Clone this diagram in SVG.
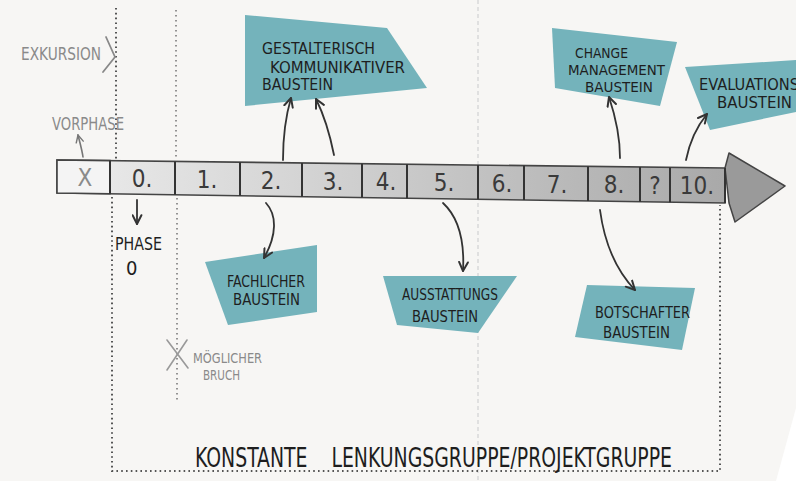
<svg xmlns="http://www.w3.org/2000/svg" width="796" height="481" viewBox="0 0 796 481">
<defs>
<linearGradient id="barg" gradientUnits="userSpaceOnUse" x1="57" y1="0" x2="725" y2="0">
<stop offset="0" stop-color="#efefef"/><stop offset="0.1" stop-color="#e6e6e6"/><stop offset="1" stop-color="#a9a9a9"/>
</linearGradient>
<marker id="ah" viewBox="0 0 10 10" refX="9" refY="5" markerWidth="11" markerHeight="11" markerUnits="userSpaceOnUse" orient="auto">
<path d="M1,1 L9,5 L1,9" fill="none" stroke="#333" stroke-width="1.8" stroke-linecap="round" stroke-linejoin="round"/>
</marker>
<marker id="ahg" viewBox="0 0 10 10" refX="9" refY="5" markerWidth="9" markerHeight="9" markerUnits="userSpaceOnUse" orient="auto">
<path d="M1,1 L9,5 L1,9" fill="none" stroke="#777" stroke-width="1.6" stroke-linecap="round"/>
</marker>
</defs>
<style>
.t{font-family:"Liberation Sans Narrow","DejaVu Sans Condensed","Liberation Sans",sans-serif;fill:#1e1e1e;}
.g{fill:#8a8a8a;}
.num{font-family:"Liberation Sans Narrow","DejaVu Sans Condensed","Liberation Sans",sans-serif;font-size:24px;fill:#3a3a3a;text-anchor:middle;}
.box{fill:#74b3bb;}
.arr{fill:none;stroke:#333;stroke-width:1.8;stroke-linecap:round;marker-end:url(#ah);}
.dot{fill:none;stroke:#555;stroke-width:2;stroke-dasharray:1.6 3.2;}
.dot2{fill:none;stroke:#888;stroke-width:1.8;stroke-dasharray:1.5 3.5;}
.sep{stroke:#333;stroke-width:2;}
</style>
<rect width="796" height="481" fill="#f7f6f4"/>
<polygon points="776,481 796,408 796,481" fill="#ffffff"/>

<g id="guides">
<line x1="478" y1="0" x2="478" y2="481" stroke="#d9d9d9" stroke-width="1.5" stroke-dasharray="4 3"/>
<line class="dot" x1="116" y1="8" x2="116" y2="160"/>
<polyline class="dot" points="112,197 112,471 720,471 720,205"/>
<line class="dot2" x1="176" y1="10" x2="176" y2="160"/>
<line class="dot2" x1="177" y1="198" x2="177" y2="400"/>
</g>

<g id="timeline">
<polygon points="57,160 725,168 725,203 57,193" fill="url(#barg)" stroke="#444" stroke-width="1.6"/>
<polygon points="57,160 110,160.6 110,193.8 57,193" fill="#f4f4f4" stroke="#444" stroke-width="1.6"/>
<polygon points="725,168 729,153 785,186 735,222 729,203" fill="#9a9a9a" stroke="#444" stroke-width="1.5" stroke-linejoin="round"/>
<line class="sep" x1="110" y1="160.6" x2="110" y2="193.8"/>
<line class="sep" x1="175" y1="161.4" x2="175" y2="194.8"/>
<line class="sep" x1="240" y1="162.2" x2="240" y2="195.7"/>
<line class="sep" x1="302" y1="162.9" x2="302" y2="196.7"/>
<line class="sep" x1="362" y1="163.7" x2="362" y2="197.6"/>
<line class="sep" x1="407" y1="164.2" x2="407" y2="198.3"/>
<line class="sep" x1="478" y1="165.1" x2="478" y2="199.3"/>
<line class="sep" x1="524" y1="165.6" x2="524" y2="200"/>
<line class="sep" x1="588" y1="166.4" x2="588" y2="201"/>
<line class="sep" x1="640" y1="167" x2="640" y2="201.7"/>
<line class="sep" x1="670" y1="167.4" x2="670" y2="202.2"/>
<line class="sep" x1="725" y1="168" x2="725" y2="203"/>
<text class="num" x="85" y="186" style="fill:#8a8a8a">X</text>
<text class="num" x="142" y="187">0.</text>
<text class="num" x="207" y="188">1.</text>
<text class="num" x="271" y="189">2.</text>
<text class="num" x="333" y="190">3.</text>
<text class="num" x="386" y="190">4.</text>
<text class="num" x="444" y="191">5.</text>
<text class="num" x="502" y="192">6.</text>
<text class="num" x="557" y="193">7.</text>
<text class="num" x="614" y="193">8.</text>
<text class="num" x="655" y="194">?</text>
<text class="num" x="697" y="194">10.</text>
</g>

<g id="exkursion">
<text class="t g" x="21" y="60" font-size="18" textLength="80" lengthAdjust="spacingAndGlyphs">EXKURSION</text>
<path d="M106,37 L115,57 L103,72" fill="none" stroke="#888" stroke-width="1.8" stroke-linecap="round" stroke-linejoin="round"/>
</g>
<g id="vorphase">
<text class="t g" x="52" y="130" font-size="17" textLength="72" lengthAdjust="spacingAndGlyphs">VORPHASE</text>
</g>
<g id="phase0">
<text class="t" x="115" y="250" font-size="17" textLength="47" lengthAdjust="spacingAndGlyphs">PHASE</text>
<text class="t" x="126" y="275" font-size="20">0</text>
</g>
<g id="bruch">
<path d="M167,340 L188,368 M187,340 L167,370" fill="none" stroke="#999" stroke-width="1.6" stroke-linecap="round"/>
<text class="t g" x="193" y="363" font-size="14" textLength="69" lengthAdjust="spacingAndGlyphs">MÖGLICHER</text>
<text class="t g" x="203" y="380" font-size="14" textLength="37" lengthAdjust="spacingAndGlyphs">BRUCH</text>
</g>

<g id="gestalterisch">
<polygon class="box" points="245,15 387,28 427,88 245,106"/>
<text class="t" x="262" y="54" font-size="16" textLength="113" lengthAdjust="spacingAndGlyphs">GESTALTERISCH</text>
<text class="t" x="270" y="73" font-size="16" textLength="135" lengthAdjust="spacingAndGlyphs">KOMMUNIKATIVER</text>
<text class="t" x="262" y="90" font-size="16" textLength="71" lengthAdjust="spacingAndGlyphs">BAUSTEIN</text>
</g>
<g id="change">
<polygon class="box" points="552,28 677,42 660,106 555,88"/>
<text class="t" x="575" y="58" font-size="14" textLength="53" lengthAdjust="spacingAndGlyphs">CHANGE</text>
<text class="t" x="568" y="75" font-size="14" textLength="97" lengthAdjust="spacingAndGlyphs">MANAGEMENT</text>
<text class="t" x="585" y="92" font-size="14" textLength="68" lengthAdjust="spacingAndGlyphs">BAUSTEIN</text>
</g>
<g id="evaluations">
<polygon class="box" points="685,67 796,60 796,112 710,130"/>
<text class="t" x="699" y="90" font-size="16" textLength="100" lengthAdjust="spacingAndGlyphs">EVALUATIONS</text>
<text class="t" x="717" y="108" font-size="16" textLength="75" lengthAdjust="spacingAndGlyphs">BAUSTEIN</text>
</g>
<g id="fachlicher">
<polygon class="box" points="205,262 317,245 317,312 228,325"/>
<text class="t" x="227" y="287" font-size="16" textLength="78" lengthAdjust="spacingAndGlyphs">FACHLICHER</text>
<text class="t" x="233" y="305" font-size="16" textLength="67" lengthAdjust="spacingAndGlyphs">BAUSTEIN</text>
</g>
<g id="ausstattungs">
<polygon class="box" points="383,276 517,276 478,333 397,325"/>
<text class="t" x="402" y="300" font-size="16" textLength="96" lengthAdjust="spacingAndGlyphs">AUSSTATTUNGS</text>
<text class="t" x="412" y="322" font-size="16" textLength="66" lengthAdjust="spacingAndGlyphs">BAUSTEIN</text>
</g>
<g id="botschafter">
<polygon class="box" points="587,285 695,288 682,350 575,337"/>
<text class="t" x="595" y="318" font-size="16" textLength="95" lengthAdjust="spacingAndGlyphs">BOTSCHAFTER</text>
<text class="t" x="603" y="338" font-size="16" textLength="67" lengthAdjust="spacingAndGlyphs">BAUSTEIN</text>
</g>

<g id="lenkungsgruppe">
<text class="t" x="195" y="467" font-size="26" xml:space="preserve" textLength="477" lengthAdjust="spacingAndGlyphs">KONSTANTE    LENKUNGSGRUPPE/PROJEKTGRUPPE</text>
</g>

<g id="connectors">
<path class="arr" d="M283,160 C283,140 286,115 291,98"/>
<path class="arr" d="M334,155 C330,135 324,115 316,99"/>
<path class="arr" d="M620,158 C620,135 615,115 609,97"/>
<path class="arr" d="M686,160 C690,140 698,125 707,114"/>
<path class="arr" d="M266,203 C277,215 277,235 264,258"/>
<path class="arr" d="M443,203 C456,215 465,235 463,271"/>
<path class="arr" d="M600,210 C604,240 614,268 635,290"/>
<path class="arr" d="M137,200 L137,224"/>
<path d="M83,157 C82,150 80,143 78,135" fill="none" stroke="#777" stroke-width="1.6" stroke-linecap="round" marker-end="url(#ahg)"/>
</g>
</svg>
